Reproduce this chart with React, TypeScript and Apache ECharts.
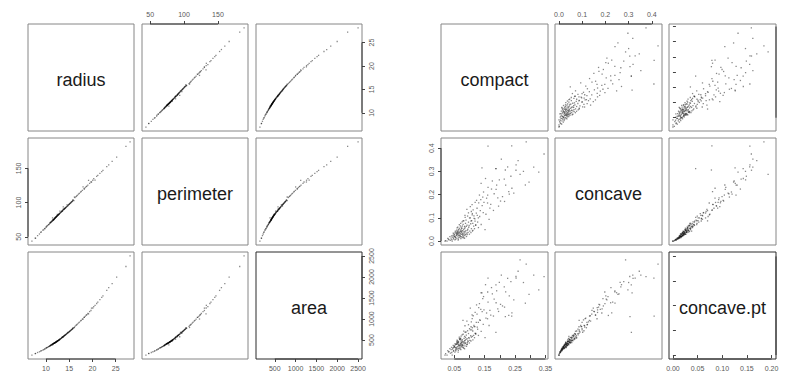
import React, { useEffect, useRef } from "react";
import * as echarts from "echarts";

// ---------- data ----------
const sizeVars = ["radius", "perimeter", "area"];
const shapeVars = ["compact", "concave", "concave.pt"];

// each row: [radius, perimeter, area]
const sizeRows: number[][] = [
  [6.98, 43.79, 143.5], [7.69, 47.98, 178.8], [7.76, 47.92, 181.0], [8.2, 51.7, 203.9], [8.6, 54.1, 221.3],
  [8.88, 56.4, 234.3], [9.0, 57.2, 246.3], [9.3, 59.6, 262.0], [9.5, 60.1, 270.9], [9.7, 61.9, 286.0],
  [9.8, 62.1, 290.6], [10.0, 64.1, 307.3], [10.1, 64.4, 311.7], [10.2, 65.6, 318.3], [10.3, 66.2, 324.2],
  [10.5, 67.3, 338.4], [10.6, 67.8, 346.0], [10.7, 68.5, 349.9], [10.8, 69.9, 358.9], [10.9, 70.0, 363.7],
  [10.95, 71.0, 368.0], [11.0, 70.7, 373.2], [11.06, 71.5, 376.3], [11.1, 71.4, 379.9], [11.2, 72.0, 386.1],
  [11.26, 72.9, 391.3], [11.3, 72.5, 394.7], [11.34, 73.3, 396.6], [11.42, 77.58, 386.1], [11.45, 73.8, 402.7],
  [11.5, 74.7, 407.4], [11.52, 73.9, 409.4], [11.57, 74.6, 412.0], [11.6, 75.0, 414.5], [11.62, 74.5, 416.2],
  [11.66, 75.5, 418.7], [11.68, 75.2, 420.3], [11.71, 75.5, 419.5], [11.75, 75.9, 422.9], [11.8, 76.3, 426.0],
  [11.84, 76.4, 429.0], [11.87, 76.8, 431.9], [11.9, 77.0, 433.2], [11.93, 77.2, 435.5], [11.95, 77.2, 437.0],
  [12.0, 77.9, 441.0], [12.03, 77.8, 443.8], [12.05, 78.3, 444.4], [12.1, 78.4, 448.0], [12.16, 78.8, 452.5],
  [12.18, 79.0, 454.0], [12.2, 79.2, 455.3], [12.23, 79.2, 457.6], [12.27, 79.6, 460.8], [12.3, 79.8, 463.0],
  [12.34, 80.0, 466.1], [12.36, 80.3, 467.5], [12.4, 80.4, 470.5], [12.45, 82.57, 477.1], [12.47, 80.8, 475.9],
  [12.5, 81.2, 478.1], [12.56, 81.3, 482.8], [12.6, 81.7, 485.8], [12.63, 81.9, 488.1], [12.68, 82.3, 492.1],
  [12.72, 82.5, 495.1], [12.77, 82.8, 499.0], [12.8, 83.1, 501.3], [12.86, 83.4, 506.1], [12.89, 83.6, 508.5],
  [12.95, 84.1, 513.2], [13.0, 87.5, 519.8], [13.05, 84.7, 521.1], [13.11, 85.1, 526.0], [13.2, 85.7, 533.1],
  [13.28, 86.2, 539.7], [13.34, 86.6, 544.6], [13.4, 87.1, 556.7], [13.45, 87.4, 560.8], [13.5, 87.8, 565.0],
  [13.54, 87.46, 566.3], [13.6, 88.4, 573.4], [13.65, 88.7, 577.6], [13.71, 90.2, 577.9], [13.73, 93.6, 578.3],
  [13.8, 89.7, 590.4], [13.85, 90.0, 594.7], [13.9, 90.4, 598.9], [13.96, 90.7, 604.1], [14.02, 91.1, 609.3],
  [14.06, 91.4, 612.8], [14.1, 91.7, 616.3], [14.19, 92.2, 624.2], [14.25, 92.6, 629.5], [14.3, 93.0, 633.9],
  [14.4, 93.6, 642.8], [14.47, 94.1, 649.1], [14.54, 96.73, 658.8], [14.6, 94.9, 660.8], [14.68, 94.74, 684.5],
  [14.74, 95.8, 673.5], [14.8, 96.2, 679.0], [14.9, 96.9, 688.2], [14.97, 97.3, 694.7], [15.04, 97.8, 701.2],
  [15.1, 98.2, 706.8], [15.19, 98.7, 715.3], [15.27, 99.3, 722.8], [15.34, 99.7, 729.5], [15.46, 100.5, 740.9],
  [15.5, 100.8, 744.8], [15.6, 101.4, 754.4], [15.66, 101.8, 760.2], [15.75, 102.4, 769.0], [15.78, 103.6, 781.0],
  [15.85, 103.7, 782.7], [16.02, 102.7, 797.8], [16.13, 108.1, 798.8], [16.25, 107.3, 826.6], [16.46, 108.6, 847.9],
  [16.6, 109.6, 862.6], [16.78, 110.7, 881.3], [17.01, 112.3, 905.6], [17.2, 113.5, 925.9], [17.46, 115.2, 954.2],
  [17.6, 116.2, 969.5], [17.85, 117.8, 997.3], [17.99, 122.8, 1001.0], [18.22, 120.3, 1039.0], [18.25, 119.6, 1040.0],
  [18.45, 121.8, 1065.0], [18.66, 123.2, 1090.0], [18.81, 124.1, 1107.0], [19.02, 125.5, 1132.0], [19.17, 132.4, 1123.0],
  [19.4, 128.0, 1178.0], [19.69, 130.0, 1203.0], [19.81, 130.0, 1260.0], [20.09, 132.6, 1263.0], [20.29, 135.1, 1297.0],
  [20.57, 132.9, 1326.0], [20.92, 138.1, 1370.0], [21.16, 139.7, 1401.0], [21.61, 142.6, 1462.0], [22.01, 145.3, 1516.0],
  [22.27, 147.0, 1552.0], [23.09, 152.4, 1682.0], [23.51, 155.1, 1747.0], [24.25, 160.1, 1844.0], [25.22, 166.5, 1999.0],
  [27.22, 182.1, 2250.0], [28.11, 188.5, 2501.0],
];

// each row: [compact, concave, concave.pt]
const shapeRows: number[][] = [
  [0.0538, 0.0178, 0.015], [0.0766, 0.0302, 0.0211], [0.0612, 0.0409, 0.0263], [0.0843, 0.0537, 0.0287], [0.0471, 0.0089, 0.0079],
  [0.0925, 0.0281, 0.0219], [0.0698, 0.0653, 0.0329], [0.0587, 0.0121, 0.0118], [0.1041, 0.0745, 0.0392], [0.0729, 0.0193, 0.0169],
  [0.0654, 0.0346, 0.0194], [0.0887, 0.0903, 0.0468], [0.0502, 0.0271, 0.0188], [0.0811, 0.0136, 0.0141], [0.0693, 0.0477, 0.031],
  [0.0559, 0.0339, 0.0215], [0.0976, 0.0594, 0.0355], [0.0634, 0.0082, 0.0096], [0.0752, 0.0551, 0.0252], [0.1112, 0.0461, 0.0306],
  [0.0443, 0.0167, 0.012], [0.0861, 0.0394, 0.023], [0.0672, 0.0229, 0.0201], [0.0791, 0.0715, 0.0422], [0.0578, 0.0471, 0.0248],
  [0.0954, 0.0376, 0.0276], [0.0619, 0.0215, 0.014], [0.1183, 0.0861, 0.0441], [0.0706, 0.0318, 0.0237], [0.0521, 0.0055, 0.0061],
  [0.0838, 0.0632, 0.0378], [0.0745, 0.0418, 0.0224], [0.0903, 0.0195, 0.0177], [0.0602, 0.0287, 0.0172], [0.1029, 0.0998, 0.0511],
  [0.0667, 0.0548, 0.0336], [0.0489, 0.0312, 0.0162], [0.0779, 0.0246, 0.0192], [0.0869, 0.0761, 0.0359], [0.0562, 0.0232, 0.0131],
  [0.0947, 0.0512, 0.0287], [0.0716, 0.0101, 0.0113], [0.0641, 0.0389, 0.0273], [0.1095, 0.1183, 0.0554], [0.0827, 0.0347, 0.0255],
  [0.0534, 0.0421, 0.0206], [0.0758, 0.0826, 0.0408], [0.0998, 0.0294, 0.0245], [0.0615, 0.0598, 0.0288], [0.0883, 0.0448, 0.0319],
  [0.0417, 0.0061, 0.0052], [0.0739, 0.0372, 0.0196], [0.0651, 0.0145, 0.0133], [0.1138, 0.0643, 0.0398], [0.0805, 0.0506, 0.0265],
  [0.0575, 0.0262, 0.0219], [0.0921, 0.0688, 0.0331], [0.0688, 0.0263, 0.0158], [0.0493, 0.0206, 0.0161], [0.1064, 0.0532, 0.0362],
  [0.0725, 0.0599, 0.0383], [0.0849, 0.0239, 0.0186], [0.0596, 0.0364, 0.0241], [0.0775, 0.0448, 0.0279], [0.0938, 0.1076, 0.0493],
  [0.0628, 0.0039, 0.0059], [0.0812, 0.0874, 0.0485], [0.0541, 0.0147, 0.0108], [0.1012, 0.0426, 0.0298], [0.0703, 0.0404, 0.022],
  [0.0874, 0.0289, 0.0249], [0.0665, 0.0708, 0.0365], [0.0457, 0.0246, 0.0143], [0.0794, 0.0185, 0.0151], [0.0968, 0.0813, 0.0436],
  [0.0606, 0.0329, 0.0226], [0.0734, 0.0521, 0.0303], [0.1206, 0.0702, 0.0427], [0.0853, 0.0585, 0.0299], [0.0527, 0.0364, 0.0232],
  [0.0761, 0.0153, 0.0162], [0.0642, 0.0494, 0.0245], [0.0914, 0.0344, 0.0212], [0.0689, 0.0171, 0.0128], [0.1073, 0.0875, 0.0509],
  [0.0583, 0.0398, 0.0279], [0.0822, 0.0418, 0.0337], [0.0711, 0.0757, 0.0341], [0.0479, 0.0133, 0.009], [0.0897, 0.0632, 0.0406],
  [0.0636, 0.0251, 0.021], [0.0786, 0.0339, 0.0185], [0.0551, 0.0085, 0.0087], [0.0989, 0.0669, 0.0342], [0.0747, 0.0286, 0.0263],
  [0.0858, 0.1021, 0.0462], [0.0623, 0.0462, 0.0258], [0.0701, 0.0214, 0.0197], [0.1151, 0.0978, 0.0578], [0.0569, 0.0308, 0.0153],
  [0.0816, 0.0271, 0.0227], [0.0679, 0.0383, 0.0319], [0.0935, 0.0468, 0.0251], [0.0511, 0.0192, 0.0172], [0.0768, 0.0647, 0.0311],
  [0.1048, 0.0364, 0.0285], [0.0592, 0.0568, 0.0302], [0.0839, 0.0123, 0.0127], [0.0722, 0.0445, 0.0268], [0.0649, 0.0309, 0.0181],
  [0.0432, 0.0, 0.0], [0.0373, 0.0034, 0.0038], [0.0396, 0.0128, 0.0109], [0.0308, 0.0079, 0.0063], [0.0262, 0.0, 0.0],
  [0.0355, 0.0186, 0.0131], [0.0215, 0.0015, 0.0029], [0.0328, 0.0052, 0.0068], [0.0194, 0.0, 0.0], [0.0409, 0.0221, 0.0157],
  [0.0287, 0.0117, 0.0089], [0.0465, 0.0342, 0.0195],
  [0.1328, 0.198, 0.1043], [0.1599, 0.1974, 0.1279], [0.2776, 0.3001, 0.1471], [0.2839, 0.2414, 0.1052], [0.17, 0.1578, 0.0809],
  [0.109, 0.1127, 0.074], [0.1645, 0.0937, 0.0599], [0.1932, 0.1859, 0.0935], [0.2396, 0.2273, 0.0854], [0.1292, 0.0995, 0.0661],
  [0.2458, 0.2065, 0.1118], [0.1002, 0.0994, 0.0536], [0.2293, 0.2128, 0.0803], [0.1595, 0.1639, 0.0736], [0.2022, 0.1722, 0.1028],
  [0.1027, 0.1479, 0.095], [0.0786, 0.0869, 0.0702], [0.1225, 0.1204, 0.0661], [0.1418, 0.1527, 0.0879], [0.1187, 0.1662, 0.0864],
  [0.1356, 0.131, 0.0702], [0.1463, 0.2112, 0.1186], [0.1121, 0.1346, 0.0797], [0.1753, 0.2587, 0.1241], [0.1269, 0.0817, 0.0524],
  [0.1542, 0.1154, 0.0748], [0.1086, 0.1571, 0.0813], [0.1894, 0.241, 0.1303], [0.1372, 0.1781, 0.0927], [0.2145, 0.2665, 0.1383],
  [0.1178, 0.0954, 0.0577], [0.1611, 0.2314, 0.1072], [0.1249, 0.1412, 0.0832], [0.1957, 0.1503, 0.0884], [0.1453, 0.1226, 0.0621],
  [0.1061, 0.1272, 0.0673], [0.1812, 0.2036, 0.1134], [0.1304, 0.1648, 0.0963], [0.2256, 0.3192, 0.1556], [0.1147, 0.1084, 0.0603],
  [0.1672, 0.1422, 0.0907], [0.1383, 0.2483, 0.1264], [0.2087, 0.1913, 0.0996], [0.1233, 0.1753, 0.1017], [0.1528, 0.2694, 0.1427],
  [0.1108, 0.0763, 0.0488], [0.1789, 0.1318, 0.0791], [0.1437, 0.1895, 0.1145], [0.2534, 0.3283, 0.1562], [0.1204, 0.0672, 0.0437],
  [0.1563, 0.1846, 0.0853], [0.1871, 0.3116, 0.1424], [0.1336, 0.1057, 0.0713], [0.2191, 0.2407, 0.1281], [0.0967, 0.1214, 0.0615],
  [0.1725, 0.2239, 0.1368], [0.1411, 0.315, 0.126], [0.161, 0.409, 0.156], [0.2867, 0.4268, 0.1845], [0.2665, 0.287, 0.193],
  [0.26, 0.346, 0.17], [0.3114, 0.318, 0.162], [0.328, 0.297, 0.132], [0.3454, 0.375, 0.159], [0.296, 0.254, 0.123],
  [0.253, 0.305, 0.1593], [0.2363, 0.2791, 0.1489], [0.2049, 0.3527, 0.1621], [0.1876, 0.2226, 0.1061], [0.231, 0.2018, 0.1199],
  [0.1983, 0.2635, 0.1473], [0.2154, 0.1705, 0.0972], [0.1512, 0.0488, 0.0354], [0.187, 0.312, 0.046], [0.239, 0.41, 0.079],
  [0.218, 0.306, 0.078], [0.1098, 0.0428, 0.0379], [0.1295, 0.0579, 0.0398], [0.1165, 0.0532, 0.0352], [0.1385, 0.0713, 0.0482],
  [0.0915, 0.1362, 0.0689], [0.0852, 0.1103, 0.0594], [0.1052, 0.0862, 0.0574], [0.1256, 0.1109, 0.0566], [0.1477, 0.1663, 0.0916],
];

// axis ranges (data range plus 4% on each side) and tick marks
const sizeRanges = [[6.135, 28.955], [38.0, 194.3], [49.2, 2595.3]];
const shapeRanges = [[0.0063, 0.3584], [-0.0171, 0.4439], [-0.008, 0.209]];
const sizeTicks = [[10, 15, 20, 25], [50, 100, 150], [500, 1000, 1500, 2000, 2500]];
const sizeTickLabels = [[10, 15, 20, 25], [50, 100, 150], [500, 1000, 1500, 2000, 2500]];
const shapeTicks = [[0.05, 0.1, 0.15, 0.2, 0.25, 0.3, 0.35], [0, 0.1, 0.2, 0.3, 0.4], [0, 0.05, 0.1, 0.15, 0.2]];
const shapeTickLabels = [[0.05, 0.15, 0.25, 0.35], [0, 0.1, 0.2, 0.3, 0.4], [0, 0.05, 0.1, 0.15, 0.2]];
const sizeDecimals = [0, 0, 0];
const shapeDecimals = [2, 1, 2];

// ---------- layout ----------
const COLS = [[28, 142, 256], [441, 555, 669]];
const ROWS = [24, 138, 252];
const PW = [106, 107];
const PH = 107;
const FONT = "'Liberation Sans', Arial, Helvetica, sans-serif";

function makeAxis(gi: number, range: number[], ticks: number[], labels: number[], dec: number, show: boolean, pos: string, isY: boolean, showLabels: boolean) {
  return {
    type: "value",
    gridIndex: gi,
    min: range[0],
    max: range[1],
    position: pos,
    show,
    axisLine: { show: false },
    axisTick: { show: true, inside: false, length: 3, customValues: ticks, lineStyle: { color: "#444", width: 1 } },
    axisLabel: {
      show: showLabels,
      customValues: labels,
      fontSize: 7,
      color: "#595959",
      fontFamily: FONT,
      margin: 6,
      rotate: isY ? 90 : 0,
      formatter: (v: number) => Number(v).toFixed(dec),
    },
    splitLine: { show: false },
  };
}

function buildMatrix(
  m: number, names: string[], rows: number[][], ranges: number[][], ticks: number[][], labels: number[][], decs: number[],
  grids: any[], xAxes: any[], yAxes: any[], series: any[], graphics: any[]
) {
  for (let i = 0; i < 3; i++) {
    for (let j = 0; j < 3; j++) {
      const gi = grids.length;
      const last = i === 2 && j === 2;
      grids.push({
        left: COLS[m][j], top: ROWS[i], width: PW[m], height: PH,
        show: true, borderColor: last ? "#2a2a2a" : "#868686", borderWidth: 1,
        backgroundColor: "transparent", containLabel: false, outerBoundsMode: "none",
      });
      const showX = (i === 2 && j % 2 === 0) || (i === 0 && j % 2 === 1);
      const showY = (j === 0 && i % 2 === 1) || (j === 2 && i % 2 === 0);
      // the right-hand labels of the second matrix fall past the picture's edge
      const yLabels = !(m === 1 && j === 2);
      xAxes.push(makeAxis(gi, ranges[j], ticks[j], labels[j], decs[j], showX, i === 0 ? "top" : "bottom", false, true));
      yAxes.push(makeAxis(gi, ranges[i], ticks[i], labels[i], decs[i], showY, j === 0 ? "left" : "right", true, yLabels));
      if (i !== j) {
        series.push({
          type: "scatter", xAxisIndex: gi, yAxisIndex: gi, silent: true,
          data: rows.map((r) => [r[j], r[i]]),
          symbol: "rect", symbolSize: 1.3,
          itemStyle: { color: "rgba(0,0,0,0.58)" },
        });
      } else {
        graphics.push({
          type: "text",
          x: COLS[m][j] + PW[m] / 2,
          y: ROWS[i] + PH / 2 + 2,
          style: {
            text: names[i], fontSize: 18, fontFamily: FONT, fill: "#1a1a1a",
            textAlign: "center", textVerticalAlign: "middle", align: "center", verticalAlign: "middle",
          },
        });
      }
      if (showX) {
        const t = ticks[j];
        const yEdge = i === 0 ? ranges[i][1] : ranges[i][0];
        series.push({
          type: "line", xAxisIndex: gi, yAxisIndex: gi, silent: true, clip: false, symbol: "none", z: 5,
          data: [[t[0], yEdge], [t[t.length - 1], yEdge]],
          lineStyle: { color: "#333", width: 1 },
        });
      }
      if (showY) {
        const t = ticks[i];
        const xEdge = j === 0 ? ranges[j][0] : ranges[j][1];
        series.push({
          type: "line", xAxisIndex: gi, yAxisIndex: gi, silent: true, clip: false, symbol: "none", z: 5,
          data: [[xEdge, t[0]], [xEdge, t[t.length - 1]]],
          lineStyle: { color: "#333", width: 1 },
        });
      }
    }
  }
}

export default function App() {
  const ref = useRef<HTMLDivElement>(null);
  useEffect(() => {
    if (!ref.current) return;
    const chart = echarts.init(ref.current, undefined, { renderer: "svg" });
    const grids: any[] = [], xAxes: any[] = [], yAxes: any[] = [], series: any[] = [], graphics: any[] = [];
    buildMatrix(0, sizeVars, sizeRows, sizeRanges, sizeTicks, sizeTickLabels, sizeDecimals, grids, xAxes, yAxes, series, graphics);
    buildMatrix(1, shapeVars, shapeRows, shapeRanges, shapeTicks, shapeTickLabels, shapeDecimals, grids, xAxes, yAxes, series, graphics);
    chart.setOption({
      animation: false,
      backgroundColor: "#ffffff",
      grid: grids,
      xAxis: xAxes,
      yAxis: yAxes,
      series,
      graphic: graphics,
    });
    return () => chart.dispose();
  }, []);
  return <div ref={ref} style={{ position: "absolute", left: 0, top: 0, width: 785, height: 376 }} />;
}
